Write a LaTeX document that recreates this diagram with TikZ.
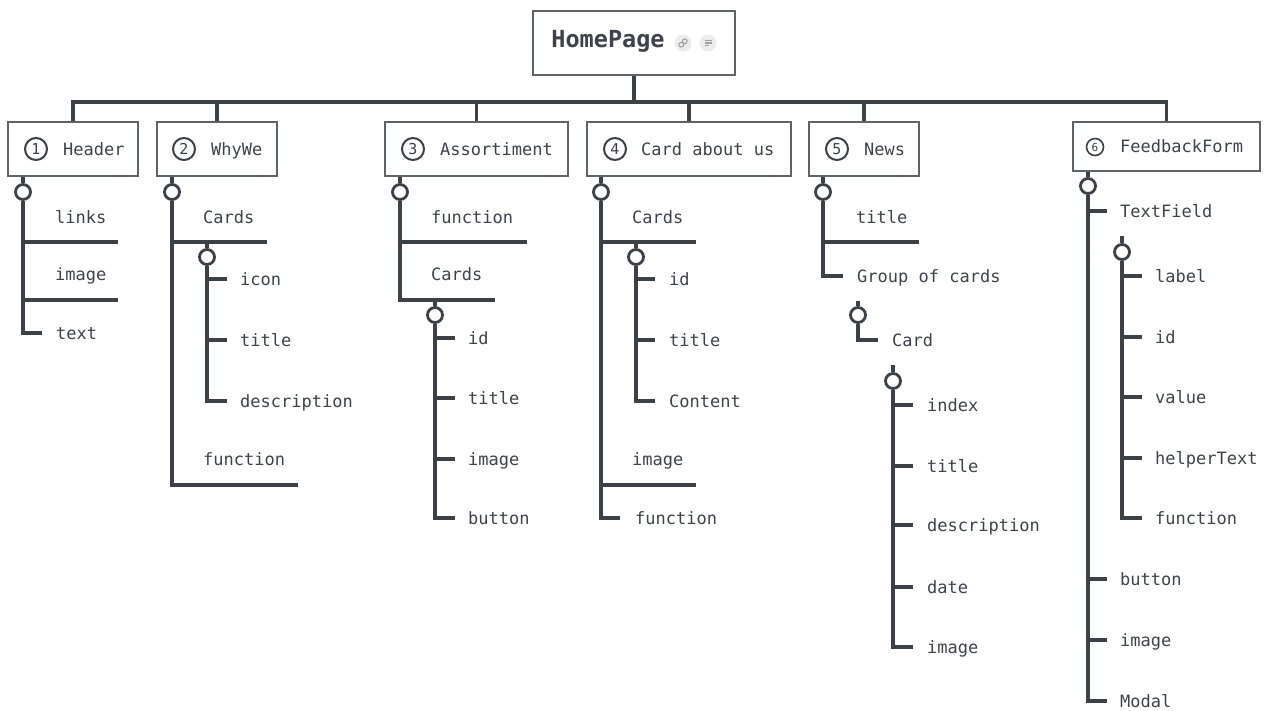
\documentclass[tikz,border=0pt]{standalone}
\usepackage{fontspec}
\setmonofont{DejaVu Sans Mono}
\usetikzlibrary{positioning}
\definecolor{ink}{RGB}{59,65,71}
\definecolor{rim}{RGB}{95,100,104}
\definecolor{txt}{RGB}{62,66,74}
\tikzset{
  wire/.style={draw=ink, line width=3.2pt},
  part/.style={draw=rim, line width=1.8pt, fill=white, minimum height=54pt},
  lbl/.style={anchor=west, inner sep=0pt, text height=14pt, text depth=2pt, text=txt, font=\ttfamily\fontsize{17}{20}\selectfont},
  knob/.style={circle, draw=ink, line width=2.8pt, fill=white, minimum size=15pt, inner sep=0pt},
  num/.style={circle, draw=ink, line width=2pt, minimum size=22pt, inner sep=0pt, text=ink, font=\ttfamily\fontsize{15}{15}\selectfont},
}
\begin{document}
\begin{tikzpicture}[x=1pt, y=-1pt]
\useasboundingbox (0,0) rectangle (1266,710);

% root
\node[part, minimum width=202pt, minimum height=64pt] (hp) at (634,43) {};
\node[anchor=base, inner sep=0pt, text=txt, font=\ttfamily\bfseries\fontsize{23.5}{26}\selectfont] (hpt) at (608,47.5) {HomePage};
\node[circle, fill=gray!15, minimum size=17pt, inner sep=0pt] (lnk) at (683,43) {};
\node[circle, fill=gray!15, minimum size=17pt, inner sep=0pt] (nts) at (708,43) {};
\draw[gray!75, line width=1pt] ([shift={(-1.7,1.7)}]lnk.center) circle (2.4pt) ([shift={(1.7,-1.7)}]lnk.center) circle (2.4pt);
\draw[gray!75, line width=1.1pt] ([shift={(-3.5,-2.5)}]nts.center) -- ++(7,0) ([shift={(-3.5,0)}]nts.center) -- ++(7,0) ([shift={(-3.5,2.5)}]nts.center) -- ++(4,0);

% parts
\node[part, minimum width=130pt] (hdr) at (73,149) {};
\node[num] (n1) at (36,149) {1};
\node[lbl] (hdrt) at (63,149) {Header};
\node[part, minimum width=120pt] (why) at (217,149) {};
\node[num] (n2) at (184,149) {2};
\node[lbl] (whyt) at (211,149) {WhyWe};
\node[part, minimum width=183pt] (ass) at (476.5,149) {};
\node[num] (n3) at (413,149) {3};
\node[lbl] (asst) at (440,149) {Assortiment};
\node[part, minimum width=204pt] (abt) at (689,149) {};
\node[num] (n4) at (615,149) {4};
\node[lbl] (abtt) at (641,149) {Card about us};
\node[part, minimum width=110pt] (news) at (864,149) {};
\node[num] (n5) at (837,149) {5};
\node[lbl] (newst) at (864,149) {News};
\node[part, minimum width=187pt, minimum height=49pt] (fb) at (1166.5,146.5) {};
\node[num, minimum size=17pt, line width=1.6pt, font=\ttfamily\fontsize{11}{11}\selectfont] (n6) at (1095,147) {6};
\node[lbl] (fbt) at (1120,146) {FeedbackForm};

\foreach \b in {hdr,why,ass,abt,news,fb}
  \draw[wire] (hp.south) -- ++(0,26) -| (\b.north);

% Header
\node[knob] (k1) at (23,192) {};
\node[lbl] (hd1) at (55,217) {links};
\node[lbl] (hd2) at (55,274) {image};
\node[lbl] (hd3) at (56,333) {text};
\draw[wire] (hdr.south -| k1) -- (k1);
\draw[wire] (k1) |- ([xshift=-14pt]hd3.west);
\draw[wire] (23,242) -- (118,242);
\draw[wire] (23,300) -- (118,300);

% WhyWe
\node[knob] (k2) at (172,192) {};
\node[lbl] (wy1) at (203,217) {Cards};
\node[knob] (k2a) at (207,257) {};
\node[lbl] (wy2) at (240,279) {icon};
\node[lbl] (wy3) at (240,340) {title};
\node[lbl] (wy4) at (240,401) {description};
\node[lbl] (wy5) at (203,459) {function};
\draw[wire] (why.south -| k2) -- (k2);
\draw[wire] (k2) |- (298,485);
\draw[wire] (172,242) -- (267,242);
\draw[wire] (207,242) -- (k2a);
\draw[wire] (k2a) |- ([xshift=-13pt]wy4.west);
\foreach \t in {wy2,wy3}
  \draw[wire] (k2a |- \t) -- ++(20,0);

% Assortiment
\node[knob] (k3) at (400,192) {};
\node[lbl] (as1) at (431,217) {function};
\node[lbl] (as2) at (431,274) {Cards};
\node[knob] (k3a) at (435,315) {};
\node[lbl] (as3) at (468,338) {id};
\node[lbl] (as4) at (468,398) {title};
\node[lbl] (as5) at (468,459) {image};
\node[lbl] (as6) at (468,518) {button};
\draw[wire] (ass.south -| k3) -- (k3);
\draw[wire] (k3) |- (495,300);
\draw[wire] (400,242) -- (527,242);
\draw[wire] (435,300) -- (k3a);
\draw[wire] (k3a) |- ([xshift=-13pt]as6.west);
\foreach \t in {as3,as4,as5}
  \draw[wire] (k3a |- \t) -- ++(20,0);

% Card about us
\node[knob] (k4) at (601,192) {};
\node[lbl] (ab1) at (632,217) {Cards};
\node[knob] (k4a) at (636,257) {};
\node[lbl] (ab2) at (669,279) {id};
\node[lbl] (ab3) at (669,340) {title};
\node[lbl] (ab4) at (669,401) {Content};
\node[lbl] (ab5) at (632,459) {image};
\node[lbl] (ab6) at (635,518) {function};
\draw[wire] (abt.south -| k4) -- (k4);
\draw[wire] (k4) |- ([xshift=-15pt]ab6.west);
\draw[wire] (601,242) -- (696,242);
\draw[wire] (601,485) -- (696,485);
\draw[wire] (636,242) -- (k4a);
\draw[wire] (k4a) |- ([xshift=-14pt]ab4.west);
\foreach \t in {ab2,ab3}
  \draw[wire] (k4a |- \t) -- ++(19,0);

% News
\node[knob] (k5) at (823,192) {};
\node[lbl] (nw1) at (856,217) {title};
\node[lbl] (nw2) at (857,276) {Group of cards};
\node[knob] (k5a) at (858,315) {};
\node[lbl] (nw3) at (892,340) {Card};
\node[knob] (k5b) at (893,381) {};
\node[lbl] (nw4) at (927,405) {index};
\node[lbl] (nw5) at (927,466) {title};
\node[lbl] (nw6) at (927,525) {description};
\node[lbl] (nw7) at (927,587) {date};
\node[lbl] (nw8) at (927,647) {image};
\draw[wire] (news.south -| k5) -- (k5);
\draw[wire] (k5) |- ([xshift=-14pt]nw2.west);
\draw[wire] (823,242) -- (919,242);
\draw[wire] (858,301) -- (k5a);
\draw[wire] (k5a) |- ([xshift=-14pt]nw3.west);
\draw[wire] (893,365) -- (k5b);
\draw[wire] (k5b) |- ([xshift=-14pt]nw8.west);
\foreach \t in {nw4,nw5,nw6,nw7}
  \draw[wire] (k5b |- \t) -- ++(20,0);

% FeedbackForm
\node[knob] (k6) at (1088,186) {};
\node[lbl] (fb1) at (1120,211) {TextField};
\node[knob] (k6a) at (1122,252) {};
\node[lbl] (fb2) at (1155,276) {label};
\node[lbl] (fb3) at (1155,337) {id};
\node[lbl] (fb4) at (1155,397) {value};
\node[lbl] (fb5) at (1155,458) {helperText};
\node[lbl] (fb6) at (1155,518) {function};
\node[lbl] (fb7) at (1120,579) {button};
\node[lbl] (fb8) at (1120,640) {image};
\node[lbl] (fb9) at (1120,701) {Modal};
\draw[wire] (fb.south -| k6) -- (k6);
\draw[wire] (k6) |- ([xshift=-13pt]fb9.west);
\foreach \t in {fb1,fb7,fb8}
  \draw[wire] (k6 |- \t) -- ++(19,0);
\draw[wire] (1122,236) -- (k6a);
\draw[wire] (k6a) |- ([xshift=-13pt]fb6.west);
\foreach \t in {fb2,fb3,fb4,fb5}
  \draw[wire] (k6a |- \t) -- ++(20,0);

\end{tikzpicture}
\end{document}
